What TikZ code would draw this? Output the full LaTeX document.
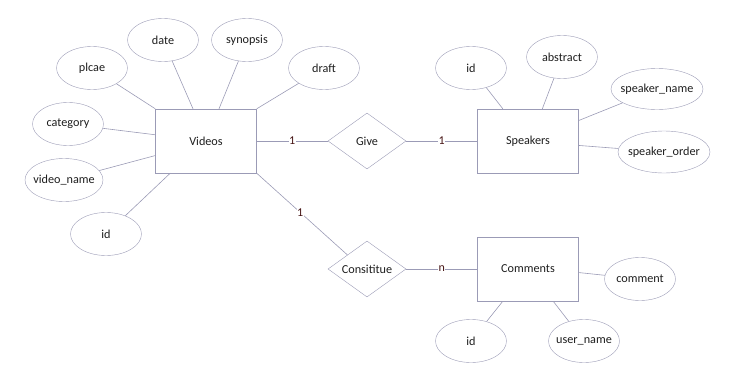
\documentclass[tikz,border=0pt]{standalone}
\usepackage{fontspec}
\setmainfont{Carlito}
\usetikzlibrary{shapes.geometric,positioning}
\definecolor{erline}{RGB}{155,155,182}
\definecolor{ertext}{RGB}{30,30,30}
\definecolor{card}{RGB}{70,20,20}
\tikzset{
  entity/.style={draw=erline, minimum width=101pt, minimum height=64pt, text=ertext, inner sep=0pt},
  attr/.style={draw=erline, ellipse, minimum width=71pt, minimum height=43pt, text=ertext, inner xsep=-6pt, inner ysep=0pt},
  rel/.style={draw=erline, diamond, minimum width=78pt, minimum height=56pt, text=ertext, inner sep=0pt, aspect=1.4},
  link/.style={draw=erline, line width=0.6pt},
  cardlbl/.style={text=card, fill=white, inner sep=0.5pt, font=\fontsize{12}{14}\selectfont}
}
\begin{document}
\begin{tikzpicture}[x=1pt, y=-1pt, font=\fontsize{12.2}{14}\selectfont]
  \useasboundingbox (0,0) rectangle (737,375);

  % entities
  \node[entity] (videos) at (206,141) {Videos};
  \node[entity] (speakers) at (528,141) {Speakers};
  \node[entity] (comments) at (528,269) {Comments};

  % relationships
  \node[rel] (give) at (367,141) {Give};
  \node[rel] (consititue) at (367,269) {Consititue};

  % attributes of videos
  \node[attr] (date) at (163,40) {date};
  \node[attr] (synopsis) at (247,40) {synopsis};
  \node[attr] (plcae) at (92,68) {plcae};
  \node[attr] (draft) at (324,68) {draft};
  \node[attr] (category) at (68,124) {category};
  \node[attr, minimum width=78pt] (videoname) at (64,180) {video\_name};
  \node[attr] (videoid) at (106,234) {id};

  % attributes of speakers
  \node[attr] (speakerid) at (471,68) {id};
  \node[attr] (abstract) at (562,57) {abstract};
  \node[attr, minimum width=92pt, minimum height=41pt] (speakername) at (657,89) {speaker\_name};
  \node[attr, minimum width=92pt, minimum height=42pt] (speakerorder) at (664,152) {speaker\_order};

  % attributes of comments
  \node[attr] (comment) at (640,279) {comment};
  \node[attr] (commentid) at (471,341) {id};
  \node[attr] (username) at (584,341) {user\_name};

  % attribute links
  \draw[link] (plcae) -- (videos.north west);
  \draw[link] (date) -- (videos.112);
  \draw[link] (synopsis) -- (videos.68);
  \draw[link] (draft) -- (videos.north east);
  \draw[link] (category) -- (videos.173);
  \draw[link] (videoname) -- (videos.196);
  \draw[link] (videoid) -- (videos.222);

  \draw[link] (speakerid) -- (speakers.128);
  \draw[link] (abstract) -- (speakers.66);
  \draw[link] (speakername) -- (speakers.22);
  \draw[link] (speakerorder) -- (speakers.355);

  \draw[link] (comment) -- (comments.356);
  \draw[link] (commentid) -- (comments.232);
  \draw[link] (username) -- (comments.308);

  % relationship links
  \draw[link] (videos) -- node[cardlbl, pos=0.5] {1} (give);
  \draw[link] (give) -- node[cardlbl, pos=0.5] {1} (speakers);
  \draw[link] (videos.south east) -- node[cardlbl, pos=0.48] {1} (consititue.north west);
  \draw[link] (consititue) -- node[cardlbl, pos=0.5] {n} (comments);
\end{tikzpicture}
\end{document}
